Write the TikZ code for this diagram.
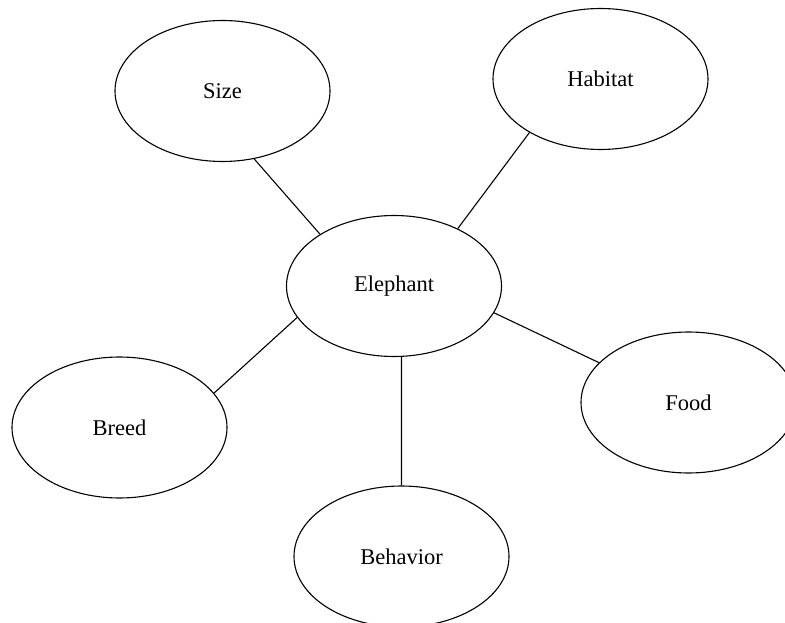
\documentclass[tikz,border=0pt]{standalone}
\usepackage{fontspec}
\setmainfont{Liberation Serif}
\usetikzlibrary{shapes.geometric}

\begin{document}
\begin{tikzpicture}[x=1pt, y=-1pt,
        bubble/.style={draw, ellipse, line width=1.1pt, minimum width=215pt, minimum height=141pt, inner sep=0pt, font=\fontsize{22.5}{27}\selectfont},
        link/.style={line width=1.1pt}]
        \useasboundingbox (0,0) rectangle (785,623);

        % Centre
        \node[bubble] (elephant) at (394,286) {Elephant};

        % Topics around it
        \node[bubble] (size) at (222.5,91) {Size};
        \node[bubble] (habitat) at (600.5,79) {Habitat};
        \node[bubble] (breed) at (119.5,427.5) {Breed};
        \node[bubble] (food) at (688.5,402.5) {Food};
        \node[bubble] (behavior) at (401.5,556.5) {Behavior};

        % Links
        \draw[link] (size.-65) -- (elephant.145);
        \draw[link] (habitat.-143.5) -- (elephant.42);
        \draw[link] (breed.20.6) -- (elephant.198.3);
        \draw[link] (food.156.6) -- (elephant.-15);
        \draw[link] (behavior.90) -- (elephant.-84.3);

    \end{tikzpicture}
\end{document}
